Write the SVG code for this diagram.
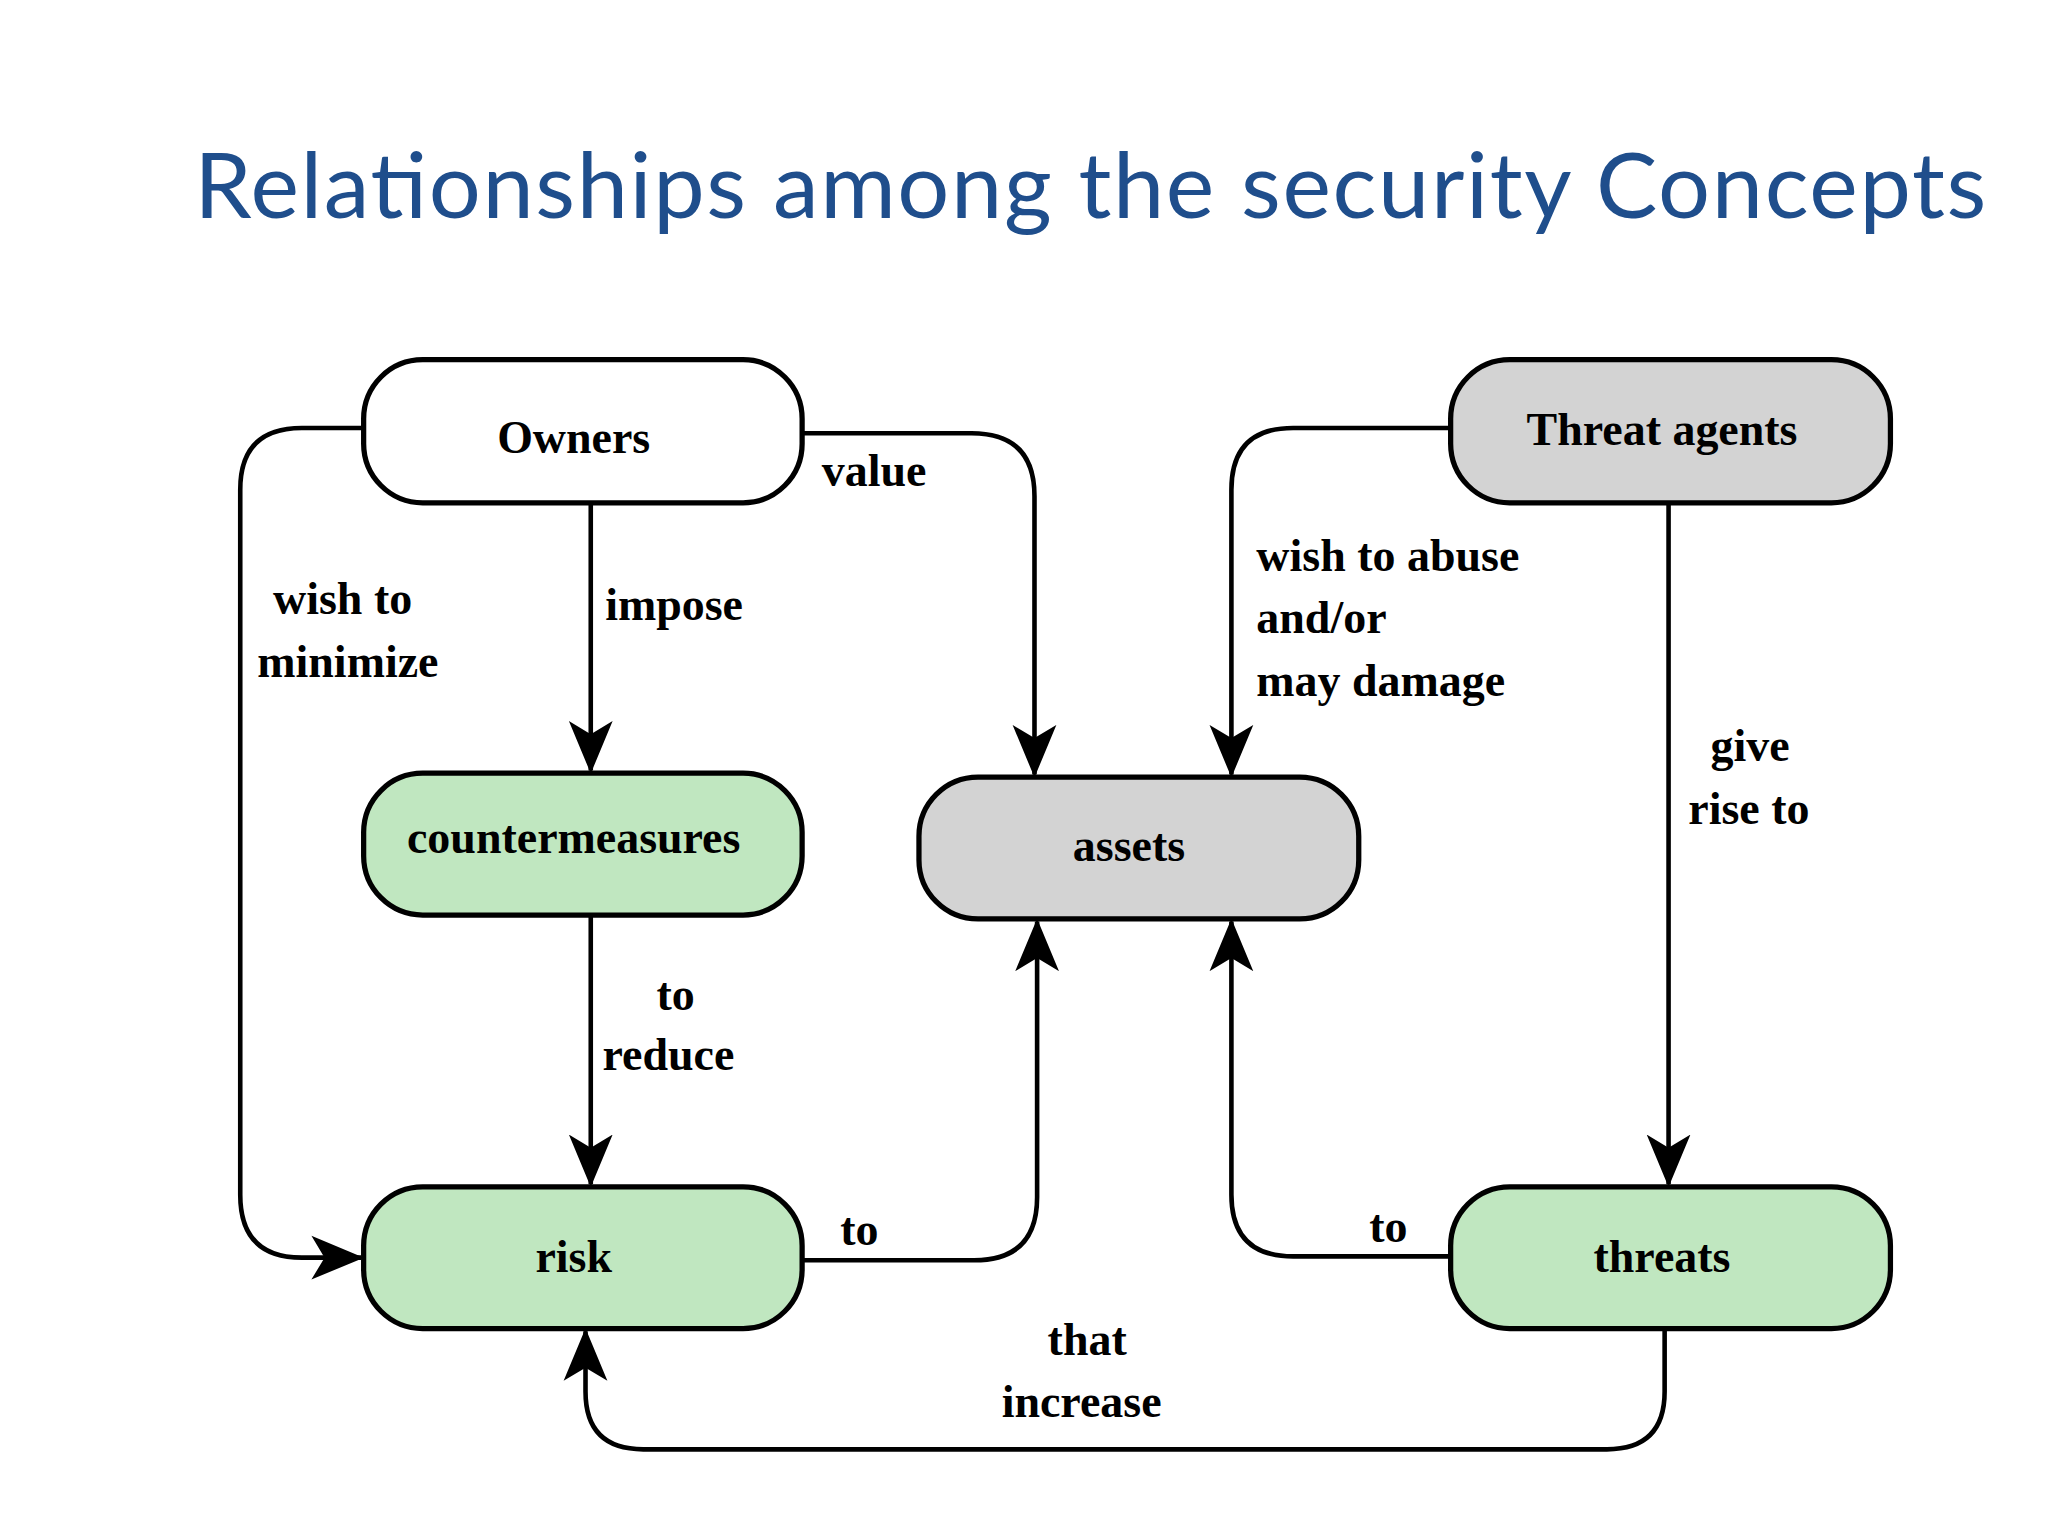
<svg xmlns="http://www.w3.org/2000/svg" width="2048" height="1536" viewBox="0 0 2048 1536">
<defs>
<style>
.n{stroke:#000;stroke-width:4}
.t{font-family:"Liberation Serif","Times New Roman",serif;font-weight:bold;font-size:35px;fill:#000}
.c{fill:none;stroke:#000;stroke-width:3.5}
</style>
<marker id="a" markerUnits="userSpaceOnUse" markerWidth="40" markerHeight="40" viewBox="0 0 36 32" refX="34" refY="16" orient="auto">
<path d="M0,1 L36,16 L0,31 L9,16 Z" fill="#000"/>
</marker>
</defs>
<rect width="2048" height="1536" fill="#fff"/>
<g transform="scale(1.3128)">
<text x="148" y="166" font-family="Lato,'Open Sans',sans-serif" font-size="70" fill="#1f4e8c" textLength="1365">Relationships among the security Concepts</text>
<g id="connectors">
<path class="c" d="M277,326 H230 Q183,326 183,373 V910 Q183,958 230,958 H275" marker-end="url(#a)"/>
<path class="c" d="M450,383 V587" marker-end="url(#a)"/>
<path class="c" d="M611,330 H740 Q788,330 788,378 V590" marker-end="url(#a)"/>
<path class="c" d="M1105,326 H985 Q938,326 938,373 V590" marker-end="url(#a)"/>
<path class="c" d="M1271,383 V902" marker-end="url(#a)"/>
<path class="c" d="M450,697 V902" marker-end="url(#a)"/>
<path class="c" d="M611,960 H742 Q790,960 790,912 V702" marker-end="url(#a)"/>
<path class="c" d="M1105,957 H985 Q938,957 938,910 V702" marker-end="url(#a)"/>
<path class="c" d="M1268,1012 V1060 Q1268,1104 1224,1104 H490 Q446,1104 446,1060 V1014" marker-end="url(#a)"/>
<text class="t" x="626" y="370">value</text>
<text class="t" x="208" y="468">wish to</text>
<text class="t" x="196" y="516">minimize</text>
<text class="t" x="461" y="472">impose</text>
<text class="t" x="500" y="769">to</text>
<text class="t" x="459" y="815">reduce</text>
<text class="t" x="640" y="948">to</text>
<text class="t" x="957" y="435">wish to abuse</text>
<text class="t" x="957" y="482">and/or</text>
<text class="t" x="957" y="530">may damage</text>
<text class="t" x="1303" y="580">give</text>
<text class="t" x="1286" y="628">rise to</text>
<text class="t" x="1043" y="946">to</text>
<text class="t" x="798" y="1032">that</text>
<text class="t" x="763" y="1079">increase</text>
</g>
<g id="owners"><rect class="n" x="277" y="274" width="334" height="109" rx="45" fill="#fff"/><text class="t" x="437" y="345" text-anchor="middle">Owners</text></g>
<g id="countermeasures"><rect class="n" x="277" y="589" width="334" height="108" rx="45" fill="#c0e7c0"/><text class="t" x="437" y="650" text-anchor="middle">countermeasures</text></g>
<g id="risk"><rect class="n" x="277" y="904" width="334" height="108" rx="45" fill="#c0e7c0"/><text class="t" x="437" y="969" text-anchor="middle">risk</text></g>
<g id="assets"><rect class="n" x="700" y="592" width="335" height="108" rx="45" fill="#d3d3d3"/><text class="t" x="860" y="656" text-anchor="middle">assets</text></g>
<g id="threat-agents"><rect class="n" x="1105" y="274" width="335" height="109" rx="45" fill="#d3d3d3"/><text class="t" x="1266" y="339" text-anchor="middle">Threat agents</text></g>
<g id="threats"><rect class="n" x="1105" y="904" width="335" height="108" rx="45" fill="#c0e7c0"/><text class="t" x="1266" y="969" text-anchor="middle">threats</text></g>
</g>
</svg>
